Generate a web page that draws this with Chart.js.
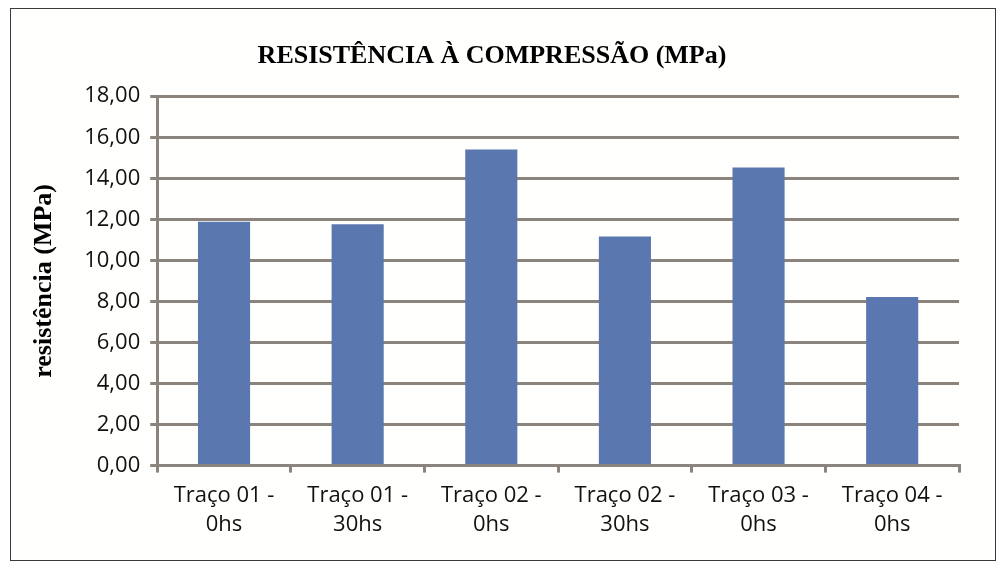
<!DOCTYPE html>
<html>
<head>
<meta charset="utf-8">
<script src="https://cdn.jsdelivr.net/npm/chart.js@4"></script>
<style>
  body { margin: 0; background: #fff; }
  #box { position: absolute; left: 10px; top: 8px; width: 984px; height: 551px; border: 1px solid #3a3a3a; background: #fffffd; }
</style>
</head>
<body>
<div id="box"><canvas id="chart"></canvas></div>
<script>
// categorias e valores
const categorias = [
    ['Traço 01 -', '0hs'],
    ['Traço 01 -', '30hs'],
    ['Traço 02 -', '0hs'],
    ['Traço 02 -', '30hs'],
    ['Traço 03 -', '0hs'],
    ['Traço 04 -', '0hs']
];
const resistencia = [11.88, 11.76, 15.40, 11.16, 14.52, 8.22];
const yMin = 0, yMax = 18, yPasso = 2;

const GRID = '#8a847c';
const tickFont = { family: "'Open Sans', 'Noto Sans', sans-serif", size: 22, lineHeight: 1.35 };
const serifBold = { family: "'Liberation Serif', serif", size: 26, weight: 'bold' };

new Chart(document.getElementById('chart'), {
    type: 'bar',
    data: {
        labels: categorias,
        datasets: [{
            label: 'resistência',
            data: resistencia,
            backgroundColor: '#5b77af',
            barPercentage: 0.39,
            categoryPercentage: 1.0
        }]
    },
    options: {
        responsive: true,
        maintainAspectRatio: false,
        animation: false,
        layout: { padding: { left: 14, right: 36, top: 32, bottom: 12 } },
        plugins: {
            legend: { display: false },
            tooltip: { enabled: false },
            title: {
                display: true,
                text: 'RESISTÊNCIA À COMPRESSÃO (MPa)',
                color: '#000',
                font: serifBold,
                padding: { top: 0, bottom: 24 }
            }
        },
        scales: {
            x: {
                grid: { display: true, drawOnChartArea: false, offset: true, color: GRID, lineWidth: 3, tickLength: 7 },
                border: { display: true, color: GRID, width: 3 },
                ticks: { color: '#111', font: tickFont, maxRotation: 0, padding: 8 }
            },
            y: {
                min: yMin,
                max: yMax,
                grid: { color: GRID, lineWidth: 3, tickLength: 7 },
                border: { display: true, color: GRID, width: 3 },
                ticks: {
                    stepSize: yPasso,
                    color: '#111',
                    font: tickFont,
                    padding: 10,
                    callback: v => v.toFixed(2).replace('.', ',')
                },
                title: {
                    display: true,
                    text: 'resistência (MPa)',
                    color: '#000',
                    font: serifBold,
                    padding: { bottom: 14 }
                }
            }
        }
    }
});
</script>
</body>
</html>
